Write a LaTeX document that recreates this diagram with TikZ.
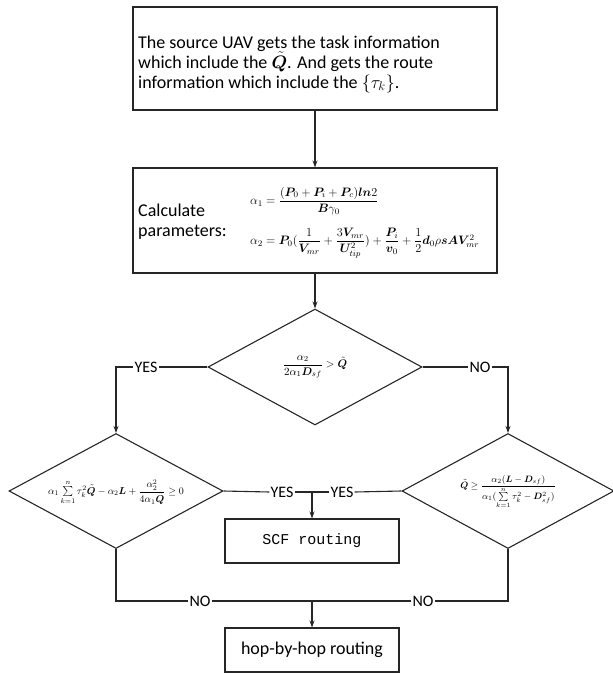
\RequirePackage{fix-cm}
\documentclass[tikz,border=0pt]{standalone}
\usepackage{amsmath,bm}
\usepackage{fontspec}
\setmainfont{Carlito}
\setmonofont{Liberation Mono}
\usetikzlibrary{shapes.geometric,arrows.meta}
\newcommand{\Qt}{\tilde{\bm{Q}}}
\tikzset{
  line/.style={line width=1.1pt, draw=black!85},
  arr/.style={line, -{Stealth[length=7pt,width=5pt]}},
  boxnode/.style={draw=black!85, line width=1.1pt, inner sep=0pt},
  dia/.style={draw=black!85, line width=1.1pt, diamond, inner sep=0pt, aspect=1.84},
  lab/.style={fill=white, inner sep=1pt, font=\fontsize{16}{18}\selectfont},
  txt/.style={font=\fontsize{18}{20}\selectfont, inner sep=0pt},
  mth/.style={font=\fontsize{11}{13}\selectfont, inner sep=0pt},
  mthbig/.style={font=\fontsize{12.2}{14}\selectfont, inner sep=0pt}
}
\begin{document}
\begin{tikzpicture}[x=1pt,y=-1pt]
\useasboundingbox (0,0) rectangle (613,673);
% boxes
\node[boxnode, minimum width=364pt, minimum height=103pt] (top) at (315,58.5) {};
\node[txt, align=left, anchor=west] (toptext) at (138,64) {The source UAV gets the task information\\which include the $\Qt$. And gets the route\\information which include the $\{\tau_k\}$.};
\node[boxnode, minimum width=364pt, minimum height=105pt] (calc) at (315,220.5) {};
\node[txt, align=left, anchor=west] (calctext) at (138,222) {Calculate\\parameters:};
\node[mthbig, anchor=west] (f1) at (250,201) {$\alpha_1=\dfrac{(\bm{P}_0+\bm{P}_i+\bm{P}_c)\bm{ln}2}{\bm{B}\gamma_0}$};
\node[mthbig, anchor=west] (f2) at (250,243) {$\alpha_2=\bm{P}_0(\dfrac{1}{\bm{V}_{mr}}+\dfrac{3\bm{V}_{mr}}{\bm{U}_{tip}^2})+\dfrac{\bm{P}_i}{\bm{v}_0}+\dfrac{1}{2}\bm{d}_0\rho \bm{s}\bm{A}\bm{V}_{mr}^2$};
% diamonds
\node[dia, minimum width=214pt, minimum height=116pt] (d1) at (315,367) {};
\node[mth] (d1t) at (315,367) {$\dfrac{\alpha_2}{2\alpha_1\bm{D}_{sf}}>\Qt$};
\node[dia, minimum width=214pt, minimum height=115pt] (d2) at (116,491) {};
\node[font=\fontsize{10}{12}\selectfont, inner sep=0pt] (d2t) at (116,492) {$\alpha_1\sum\limits_{k=1}^{n}\tau_k^2\Qt-\alpha_2\bm{L}+\dfrac{\alpha_2^2}{4\alpha_1\Qt}\ge 0$};
\node[dia, minimum width=212pt, minimum height=115pt] (d3) at (508,491) {};
\node[font=\fontsize{9.2}{11}\selectfont, inner sep=0pt] (d3t) at (508,492) {$\Qt\ge\dfrac{\alpha_2(\bm{L}-\bm{D}_{sf})}{\alpha_1(\sum\limits_{k=1}^{n}\tau_k^2-\bm{D}_{sf}^2)}$};
% result boxes
\node[boxnode, minimum width=174pt, minimum height=44pt, font=\ttfamily\fontsize{15}{17}\selectfont] (scf) at (312,541) {SCF routing};
\node[boxnode, minimum width=174pt, minimum height=44pt, font=\fontsize{18}{20}\selectfont] (hop) at (312,650) {hop-by-hop routing};
% labels
\node[lab] (yes1) at (146,367) {YES};
\node[lab] (no1) at (480,367) {NO};
\node[lab] (yes2) at (282,492) {YES};
\node[lab] (yes3) at (342,492) {YES};
\node[lab] (no2) at (200,601) {NO};
\node[lab] (no3) at (423,601) {NO};
\coordinate (j1) at (312,492);
\coordinate (j2) at (312,601);
% connectors
\draw[arr] (top.south) -- (calc.north);
\draw[arr] (calc.south) -- (d1.north);
\draw[line] (d1.west) -- (yes1.east);
\draw[arr] (yes1.west) -| (d2.north);
\draw[line] (d1.east) -- (no1.west);
\draw[arr] (no1.east) -| (d3.north);
\draw[line] (d2.east) -- (yes2.west);
\draw[line] (yes2.east) -- (j1);
\draw[line] (d3.west) -- (yes3.east);
\draw[line] (yes3.west) -- (j1);
\draw[arr] (j1) -- (scf.north);
\draw[line] (d2.south) |- (no2.west);
\draw[line] (no2.east) -- (j2);
\draw[line] (d3.south) |- (no3.east);
\draw[line] (no3.west) -- (j2);
\draw[arr] (j2) -- (hop.north);
\end{tikzpicture}
\end{document}
